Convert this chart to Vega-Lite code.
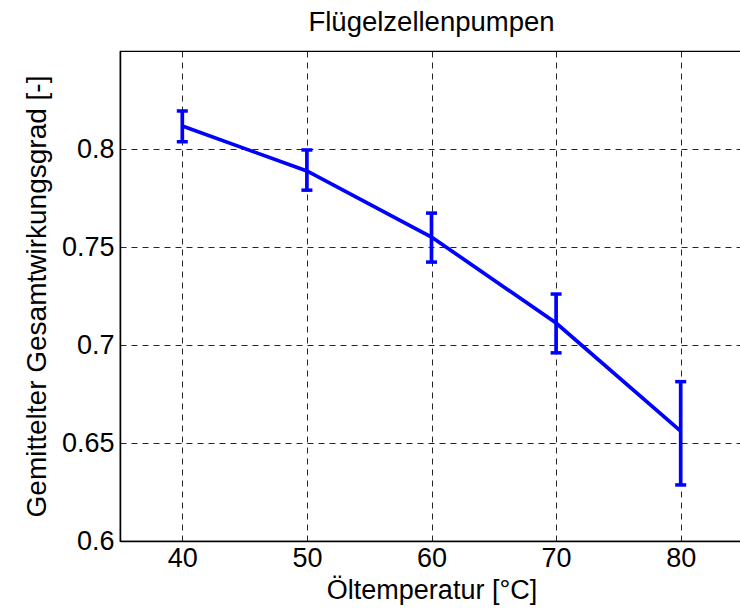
{
  "$schema": "https://vega.github.io/schema/vega-lite/v6.json",
  "autosize": "none",
  "width": 623,
  "height": 490,
  "padding": {"left": 120, "top": 51, "right": 0, "bottom": 68},
  "background": "white",
  "title": {"text": "Flügelzellenpumpen", "font": "Liberation Sans", "fontSize": 27.5, "fontWeight": "normal", "color": "black", "offset": 15},
  "config": {
    "view": {"stroke": "black", "strokeWidth": 1.2},
    "axis": {
      "labelFont": "Liberation Sans", "labelFontSize": 27, "labelColor": "black",
      "titleFont": "Liberation Sans", "titleFontSize": 27, "titleFontWeight": "normal", "titleColor": "black",
      "gridColor": "black", "gridDash": [6, 5], "gridOpacity": 0.85, "gridWidth": 1,
      "domainColor": "black", "domainWidth": 1.5, "ticks": false
    }
  },
  "data": {"values": [
    {"t": 40, "m": 0.8117, "lo": 0.8037, "hi": 0.8194},
    {"t": 50, "m": 0.7888, "lo": 0.7790, "hi": 0.7995},
    {"t": 60, "m": 0.7551, "lo": 0.7423, "hi": 0.7673},
    {"t": 70, "m": 0.7112, "lo": 0.6960, "hi": 0.7260},
    {"t": 80, "m": 0.6561, "lo": 0.6286, "hi": 0.6813}
  ]},
  "encoding": {
    "x": {"field": "t", "type": "quantitative", "scale": {"domain": [35, 85], "nice": false, "zero": false},
      "axis": {"values": [40, 50, 60, 70, 80], "title": "Öltemperatur [°C]", "labelPadding": 4, "titlePadding": 6}}
  },
  "layer": [
    {
      "mark": {"type": "line", "color": "#0000ff", "strokeWidth": 3.7},
      "encoding": {
        "y": {"field": "m", "type": "quantitative", "scale": {"domain": [0.6, 0.85], "nice": false, "zero": false},
          "axis": {"values": [0.6, 0.65, 0.7, 0.75, 0.8], "format": "~g", "title": "Gemittelter Gesamtwirkungsgrad [-]", "titleFontSize": 28, "labelPadding": 6, "titlePadding": 10}}
      }
    },
    {
      "mark": {"type": "rule", "color": "#0000ff", "strokeWidth": 3.7},
      "encoding": {"y": {"field": "lo", "type": "quantitative"}, "y2": {"field": "hi"}}
    },
    {
      "mark": {"type": "tick", "color": "#0000ff", "orient": "horizontal", "size": 11, "thickness": 3.5, "opacity": 1},
      "encoding": {"y": {"field": "lo", "type": "quantitative"}}
    },
    {
      "mark": {"type": "tick", "color": "#0000ff", "orient": "horizontal", "size": 11, "thickness": 3.5, "opacity": 1},
      "encoding": {"y": {"field": "hi", "type": "quantitative"}}
    }
  ]
}
